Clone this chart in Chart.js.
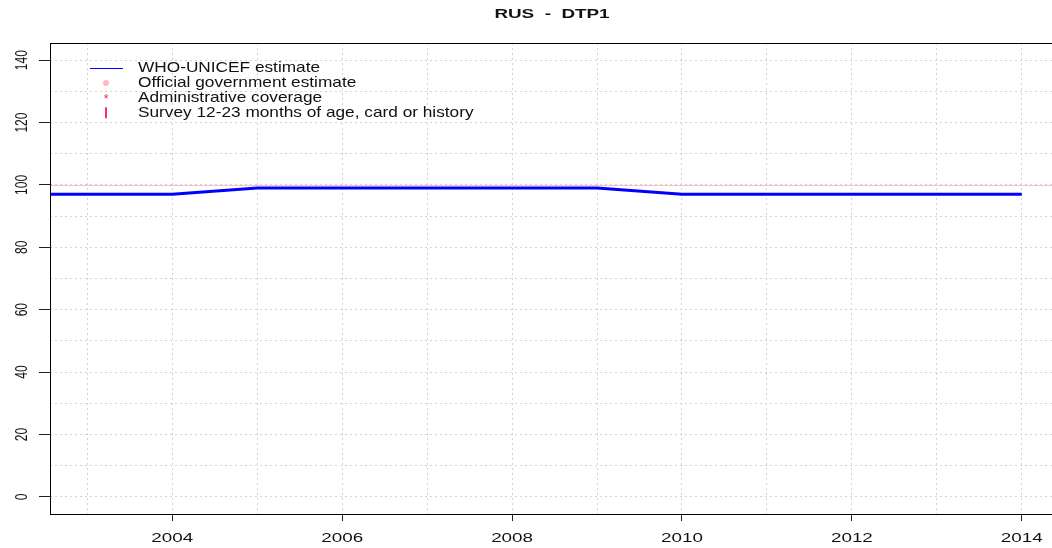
<!DOCTYPE html>
<html>
<head>
<meta charset="utf-8">
<title>RUS - DTP1</title>
<script src="https://cdn.jsdelivr.net/npm/chart.js@4.4.1/dist/chart.umd.min.js"></script>
<style>
  html, body { margin: 0; padding: 0; overflow: hidden; background: #fff; }
  #wrap { width: 1060px; height: 548px; }
</style>
</head>
<body>
<div id="wrap"><canvas id="coverage-chart" width="1060" height="548"></canvas></div>
<script>
// datos
const chartTitle = 'RUS  -  DTP1';
const years = [2002, 2003, 2004, 2005, 2006, 2007, 2008, 2009, 2010, 2011, 2012, 2013, 2014];
const whoUnicef = [97, 97, 97, 99, 99, 99, 99, 99, 97, 97, 97, 97, 97];
const targetLine = 100;

const gridYears = [2003, 2004, 2005, 2006, 2007, 2008, 2009, 2010, 2011, 2012, 2013, 2014];
const xTickLabels = [2004, 2006, 2008, 2010, 2012, 2014];
const gridY = [0, 10, 20, 30, 40, 50, 60, 70, 80, 90, 100, 110, 120, 130, 140];
const yTickLabels = [0, 20, 40, 60, 80, 100, 120, 140];

const legendLabels = [
    'WHO-UNICEF estimate',
    'Official government estimate',
    'Administrative coverage',
    'Survey 12-23 months of age, card or history'
];

const FONT = "'Liberation Sans', Arial, sans-serif";

// texto con estiramiento horizontal (como en la imagen original)
function drawText(ctx, text, x, y, font, sx, align, rotate) {
    ctx.save();
    ctx.translate(x, y);
    ctx.scale(sx, 1);
    if (rotate) ctx.rotate(-Math.PI / 2);
    ctx.font = font;
    ctx.fillStyle = '#111';
    ctx.textAlign = align;
    ctx.textBaseline = 'middle';
    ctx.fillText(text, 0, 0);
    ctx.restore();
}

const rPlot = {
    id: 'rPlot',
    beforeDatasetsDraw(chart) {
        const { ctx, chartArea: a, scales: { y } } = chart;
        const py = Math.round(y.getPixelForValue(targetLine)) + 0.5;
        ctx.save();
        ctx.strokeStyle = '#f7c1c8';
        ctx.lineWidth = 1;
        ctx.beginPath();
        ctx.moveTo(a.left, py);
        ctx.lineTo(a.right, py);
        ctx.stroke();
        ctx.restore();
    },
    afterDraw(chart) {
        const { ctx, chartArea: a, scales: { x, y } } = chart;

        // caja
        ctx.save();
        ctx.strokeStyle = '#000';
        ctx.lineWidth = 1;
        ctx.strokeRect(Math.round(a.left) + 0.5, Math.round(a.top) + 0.5,
            Math.round(a.right - a.left), Math.round(a.bottom - a.top));
        ctx.restore();

        // etiquetas eje y (rotadas)
        yTickLabels.forEach(v => {
            drawText(ctx, String(v), 22.5, y.getPixelForValue(v), '12px ' + FONT, 1.4, 'center', true);
        });

        // etiquetas eje x
        xTickLabels.forEach(v => {
            drawText(ctx, String(v), x.getPixelForValue(v), 538, '13px ' + FONT, 1.45, 'center', false);
        });

        // titulo
        drawText(ctx, chartTitle, 552, 14.5, 'bold 13px ' + FONT, 1.45, 'center', false);

        // leyenda
        const rowY = [68, 83, 98, 112.8];
        const symX = 106;
        ctx.save();
        ctx.strokeStyle = '#0000ff';
        ctx.lineWidth = 1;
        ctx.beginPath();
        ctx.moveTo(90, rowY[0] + 0.5);
        ctx.lineTo(123, rowY[0] + 0.5);
        ctx.stroke();

        ctx.fillStyle = '#ffb6c1';
        ctx.beginPath();
        ctx.arc(symX, rowY[1], 3, 0, Math.PI * 2);
        ctx.fill();

        ctx.fillStyle = '#ff2040';
        ctx.font = '12px ' + FONT;
        ctx.textAlign = 'center';
        ctx.textBaseline = 'middle';
        ctx.fillText('*', symX, rowY[2] + 2);

        ctx.strokeStyle = '#ff3060';
        ctx.lineWidth = 2;
        ctx.beginPath();
        ctx.moveTo(symX, rowY[3] - 5.5);
        ctx.lineTo(symX, rowY[3] + 5.5);
        ctx.stroke();
        ctx.restore();

        legendLabels.forEach((txt, i) => {
            drawText(ctx, txt, 138, rowY[i], '15px ' + FONT, 1.15, 'left', false);
        });
    }
};

const ctx = document.getElementById('coverage-chart').getContext('2d');
new Chart(ctx, {
    type: 'line',
    data: {
        datasets: [{
            label: legendLabels[0],
            data: years.map((yr, i) => ({ x: yr, y: whoUnicef[i] })),
            borderColor: '#0000ff',
            borderWidth: 3,
            pointRadius: 0,
            tension: 0,
            fill: false
        }]
    },
    options: {
        responsive: false,
        animation: false,
        devicePixelRatio: 1,
        layout: { padding: { top: 43, left: 0, right: 0, bottom: 0 } },
        plugins: {
            legend: { display: false },
            title: { display: false },
            tooltip: { enabled: false }
        },
        scales: {
            x: {
                type: 'linear',
                min: 2002.56,
                max: 2014.45,
                afterBuildTicks: axis => { axis.ticks = gridYears.map(v => ({ value: v })); },
                afterFit: axis => { axis.height = 34; },
                border: { display: false, dash: [2, 3] },
                grid: {
                    color: '#d3d3d3',
                    tickBorderDash: [],
                    tickLength: 7,
                    tickColor: c => xTickLabels.includes(c.tick.value) ? '#222' : 'rgba(0,0,0,0)'
                },
                ticks: { display: false }
            },
            y: {
                min: -5.5,
                max: 145.5,
                afterBuildTicks: axis => { axis.ticks = gridY.map(v => ({ value: v })); },
                afterFit: axis => { axis.width = 50; },
                border: { display: false, dash: [2, 3] },
                grid: {
                    color: '#d3d3d3',
                    tickBorderDash: [],
                    tickLength: 11,
                    tickColor: c => yTickLabels.includes(c.tick.value) ? '#222' : 'rgba(0,0,0,0)'
                },
                ticks: { display: false }
            }
        }
    },
    plugins: [rPlot]
});
</script>
</body>
</html>
